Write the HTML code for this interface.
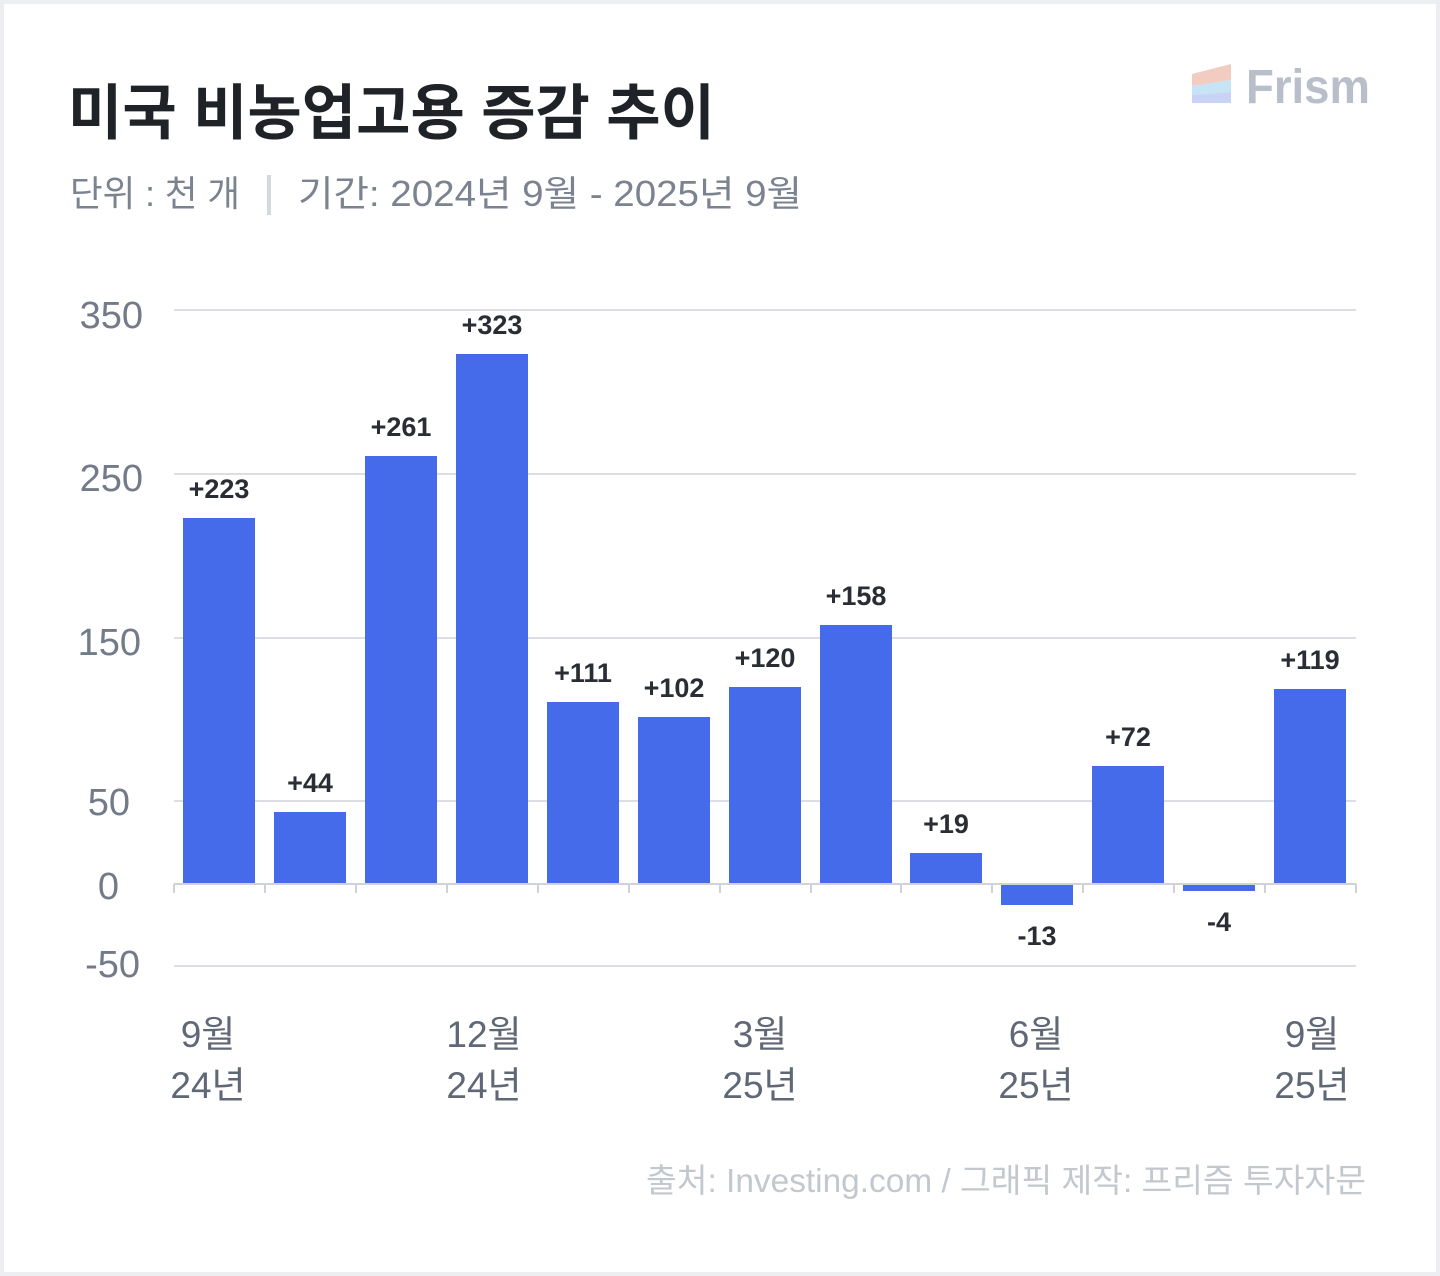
<!DOCTYPE html>
<html><head><meta charset="utf-8"><style>
html,body{margin:0;padding:0;background:#eceef2}
svg{display:block}
text{font-family:"Liberation Sans","Noto Sans CJK KR",sans-serif}
</style></head><body>
<svg width="1440" height="1276" viewBox="0 0 1440 1276">
<rect x="4" y="4" width="1432" height="1268" fill="#fff"/>
<text x="68" y="134" font-size="60" font-weight="700" fill="#1f2328" textLength="647" lengthAdjust="spacingAndGlyphs" font-family="'Noto Sans CJK KR',sans-serif">미국 비농업고용 증감 추이</text>
<text x="70" y="206" font-size="36" fill="#7b8290" textLength="170" lengthAdjust="spacingAndGlyphs" font-family="'Noto Sans CJK KR',sans-serif">단위 : 천 개</text>
<rect x="267" y="175" width="4" height="40" fill="#d5d8de"/>
<text x="298" y="206" font-size="36" fill="#7b8290" textLength="504" lengthAdjust="spacingAndGlyphs" font-family="'Noto Sans CJK KR',sans-serif">기간: 2024년 9월 - 2025년 9월</text>
<g>
<polygon points="1192,74 1231,64 1231,80 1192,86" fill="#f2cbc1"/>
<polygon points="1192,86 1231,80 1231,92 1192,95" fill="#c6e4f5"/>
<polygon points="1192,95 1231,92 1231,103 1192,103" fill="#c8d3f5"/>
<text x="1246" y="103" font-size="48" font-weight="700" fill="#b9bfca" textLength="124" lengthAdjust="spacingAndGlyphs">Frism</text>
</g>
<g stroke="#dcdee3" stroke-width="2">
<line x1="174" x2="1356" y1="310" y2="310"/>
<line x1="174" x2="1356" y1="474" y2="474"/>
<line x1="174" x2="1356" y1="638" y2="638"/>
<line x1="174" x2="1356" y1="801" y2="801"/>
<line x1="174" x2="1356" y1="966" y2="966"/>
</g>
<g font-size="38" fill="#737a88" text-anchor="end">
<text x="143" y="328">350</text><text x="143" y="491">250</text><text x="141" y="655">150</text><text x="130" y="815">50</text><text x="119" y="899">0</text><text x="140" y="977">-50</text>
</g>
<g fill="#466bea">
<rect x="183" y="518" width="72" height="366"/>
<rect x="274" y="812" width="72" height="72"/>
<rect x="365" y="456" width="72" height="428"/>
<rect x="456" y="354" width="72" height="530"/>
<rect x="547" y="702" width="72" height="182"/>
<rect x="638" y="717" width="72" height="167"/>
<rect x="729" y="687" width="72" height="197"/>
<rect x="820" y="625" width="72" height="259"/>
<rect x="910" y="853" width="72" height="31"/>
<rect x="1001" y="884" width="72" height="21"/>
<rect x="1092" y="766" width="72" height="118"/>
<rect x="1183" y="884" width="72" height="7"/>
<rect x="1274" y="689" width="72" height="195"/>
</g>
<g stroke="#cfd2d8" stroke-width="2" fill="none">
<line x1="174" x2="1356" y1="884" y2="884"/>
<path d="M174 884v9M265 884v9M356 884v9M447 884v9M538 884v9M629 884v9M720 884v9M811 884v9M901 884v9M992 884v9M1083 884v9M1174 884v9M1265 884v9M1356 884v9"/>
</g>
<g font-size="27" font-weight="700" fill="#2a2d33" text-anchor="middle">
<text x="219" y="498">+223</text><text x="310" y="792">+44</text><text x="401" y="436">+261</text><text x="492" y="334">+323</text>
<text x="583" y="682">+111</text><text x="674" y="697">+102</text><text x="765" y="667">+120</text><text x="856" y="605">+158</text>
<text x="946" y="833">+19</text><text x="1037" y="945">-13</text><text x="1128" y="746">+72</text><text x="1219" y="931">-4</text><text x="1310" y="669">+119</text>
</g>
<g font-size="37" fill="#606775" text-anchor="middle" font-family="'Noto Sans CJK KR',sans-serif">
<text x="208" y="1047">9월</text><text x="208" y="1098">24년</text>
<text x="484" y="1047">12월</text><text x="484" y="1098">24년</text>
<text x="760" y="1047">3월</text><text x="760" y="1098">25년</text>
<text x="1036" y="1047">6월</text><text x="1036" y="1098">25년</text>
<text x="1312" y="1047">9월</text><text x="1312" y="1098">25년</text>
</g>
<text x="646" y="1192" font-size="33" fill="#c3c7ce" textLength="720" lengthAdjust="spacingAndGlyphs" font-family="'Noto Sans CJK KR',sans-serif">출처: Investing.com / 그래픽 제작: 프리즘 투자자문</text>
</svg>
</body></html>
